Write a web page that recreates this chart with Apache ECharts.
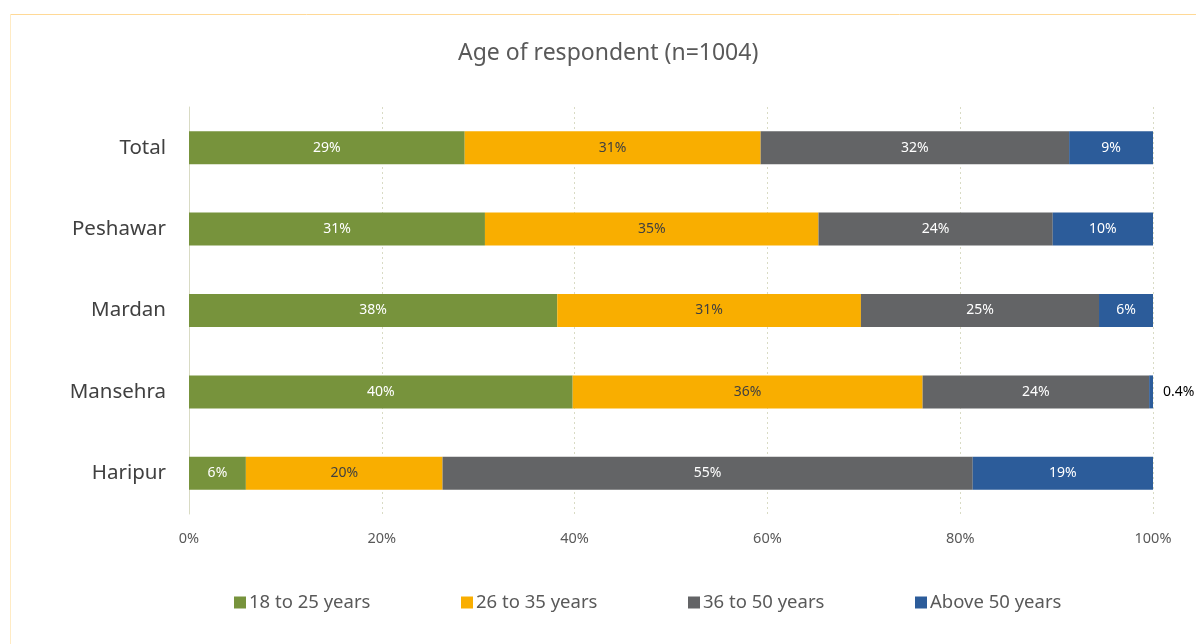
<!DOCTYPE html>
<html><head><meta charset="utf-8">
<script src="https://cdn.jsdelivr.net/npm/echarts@6/dist/echarts.min.js"></script>
<style>html,body{margin:0;padding:0;background:#fff}#c{width:1196px;height:644px}</style>
</head><body><div id="c"></div>
<script>
const categories = ['Total', 'Peshawar', 'Mardan', 'Mansehra', 'Haripur'];
const seriesNames = ['18 to 25 years', '26 to 35 years', '36 to 50 years', 'Above 50 years'];
const age18to25 = [28.6, 30.7, 38.2, 39.8, 5.9];
const age26to35 = [30.7, 34.6, 31.5, 36.3, 20.4];
const age36to50 = [32.0, 24.3, 24.7, 23.5, 55.0];
const above50 = [8.7, 10.4, 5.6, 0.4, 18.7];
const labelText = [
  ['29%', '31%', '38%', '40%', '6%'],
  ['31%', '35%', '31%', '36%', '20%'],
  ['32%', '24%', '25%', '24%', '55%'],
  ['9%', '10%', '6%', '0.4%', '19%']
];
const xTicks = ['0%', '20%', '40%', '60%', '80%', '100%'];

const FONT = 'Noto Sans';
const colors = ['#77933C', '#F9AE00', '#636466', '#2C5C9A'];
const labelColors = ['#FFFFFF', '#404040', '#FFFFFF', '#FFFFFF'];
const values = [age18to25, age26to35, age36to50, above50];

const chart = echarts.init(document.getElementById('c'), null, {renderer: 'canvas'});

const series = values.map((arr, si) => ({
  name: seriesNames[si],
  type: 'bar',
  stack: 'total',
  barWidth: 33,
  itemStyle: {color: colors[si]},
  label: {
    show: true,
    position: 'inside',
    color: labelColors[si],
    fontFamily: FONT,
    fontSize: 14,
    formatter: p => labelText[si][p.dataIndex]
  },
  data: arr.map((v, i) => {
    if (si === 3 && v < 2) {
      return {value: v, label: {position: 'right', distance: 10, color: '#000000', fontSize: 14}};
    }
    return v;
  })
}));

const legendX = [234, 461, 688, 915];
const legends = seriesNames.map((n, i) => ({
  data: [n],
  left: legendX[i],
  top: 593,
  padding: 0,
  icon: 'rect',
  itemWidth: 12,
  itemHeight: 12,
  itemGap: 0,
  textStyle: {color: '#595959', fontFamily: FONT, fontSize: 18.5, padding: [0, 0, 0, -2]}
}));

chart.setOption({
  animation: false,
  backgroundColor: '#ffffff',
  color: colors,
  title: {
    text: 'Age of respondent (n=1004)',
    left: 453,
    top: 37,
    textStyle: {color: '#595959', fontFamily: FONT, fontSize: 23, fontWeight: 'normal'}
  },
  graphic: [
    {type: 'line', shape: {x1: 10, y1: 14.5, x2: 1196, y2: 14.5}, style: {stroke: '#FFD996', lineWidth: 1}, silent: true, z: -10},
    {type: 'line', shape: {x1: 10.5, y1: 14, x2: 10.5, y2: 644}, style: {stroke: '#FFEBC4', lineWidth: 1}, silent: true, z: -10}
  ],
  legend: legends,
  grid: {left: 189, right: 43, top: 107, bottom: 130, containLabel: false},
  xAxis: {
    type: 'value',
    min: 0, max: 100, interval: 20,
    axisLine: {show: false},
    axisTick: {show: false},
    splitLine: {show: true, lineStyle: {color: '#D9DBC4', type: [2, 3], width: 1}},
    axisLabel: {
      color: '#595959', fontFamily: FONT, fontSize: 14.5, margin: 17,
      formatter: v => xTicks[Math.round(v / 20)]
    }
  },
  yAxis: {
    type: 'category',
    data: categories,
    inverse: true,
    axisLine: {show: true, lineStyle: {color: '#D9DBC4', width: 1}},
    axisTick: {show: false},
    axisLabel: {color: '#404040', fontFamily: FONT, fontSize: 20.5, margin: 23}
  },
  series: series
});
</script></body></html>
